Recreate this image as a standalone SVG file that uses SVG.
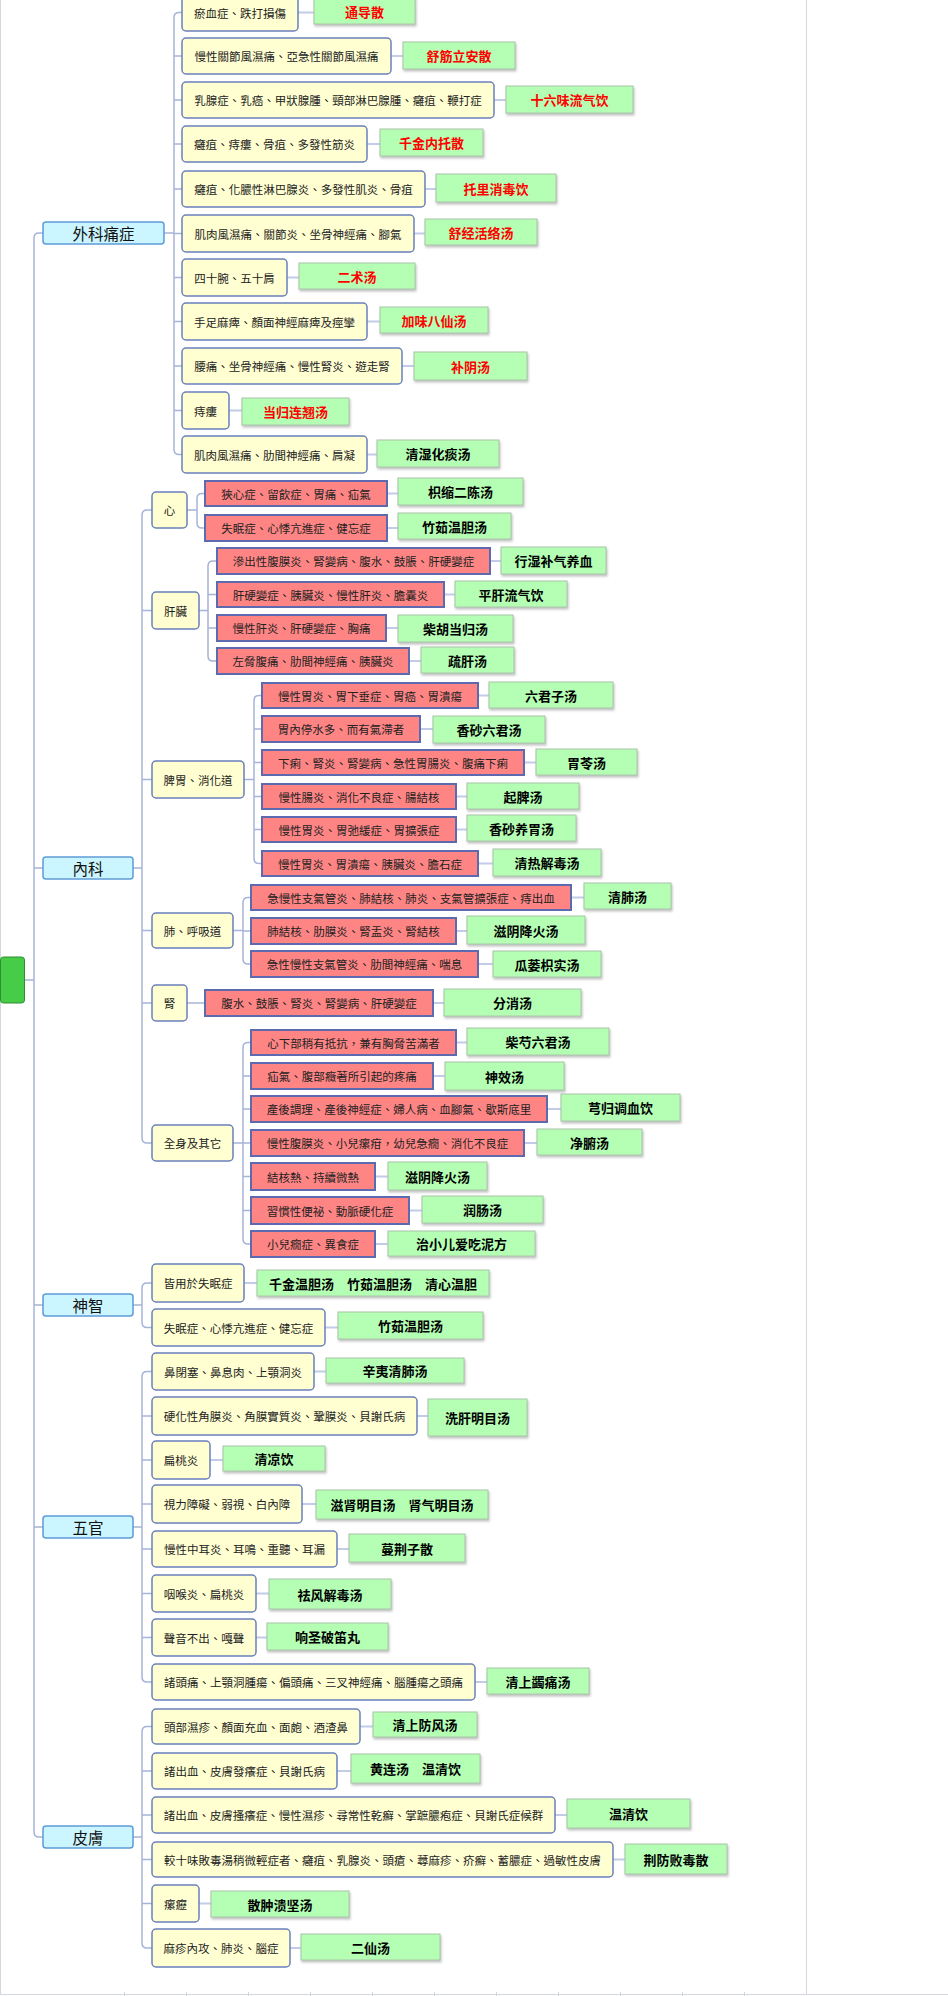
<svg xmlns="http://www.w3.org/2000/svg" width="948" height="1996" viewBox="0 0 948 1996">
<defs>
<filter id="sh" x="-5%" y="-20%" width="115%" height="160%">
<feDropShadow dx="1" dy="2" stdDeviation="1" flood-color="#777" flood-opacity="0.45"/>
</filter>
</defs>
<style>
.frame{stroke:#D3D7DF;stroke-width:1;fill:none}
.c{fill:none;stroke:#A6B4D8;stroke-width:1.5}
.cd{fill:none;stroke:#C2CCE8;stroke-width:2}
.root{fill:#46CC46;stroke:#2F8F2F;stroke-width:1}
.l1 rect{fill:#CCF6FF;stroke:#5D9CD8;stroke-width:1.5}
.y rect{fill:#FFFFD2;stroke:#6A80BC;stroke-width:1.5}
.r rect{fill:#FF8585;stroke:#5E6AB0;stroke-width:2}
.g rect{fill:#B5FFB5;stroke:#A8C4A8;stroke-width:1;filter:url(#sh)}
text{dominant-baseline:central;text-anchor:middle}
.l1 text{font-family:"Noto Sans CJK TC","Noto Sans CJK SC",sans-serif;font-size:15.5px;fill:#111}
.y text,.r text{font-family:"Noto Sans CJK TC","Noto Sans CJK SC",sans-serif;font-size:11.5px;fill:#222}
.g text{font-family:"Noto Sans CJK SC","Noto Sans CJK TC",sans-serif;font-size:13px;font-weight:bold;fill:#000}
.g.red text{fill:#FF0000}
</style>
<rect width="948" height="1996" fill="#FFFFFF"/>
<g id="frame">
<path class="frame" d="M0.5,0V1994.5M806.5,0V1994.5M0,1994.5H948"/>
<path class="frame" d="M124.5,1992V1996M186.5,1992V1996M248.5,1992V1996M310.5,1992V1996M372.5,1992V1996M434.5,1992V1996M496.5,1992V1996M558.5,1992V1996M620.5,1992V1996M682.5,1992V1996M744.5,1992V1996"/>
</g>
<g id="connectors">
<path class="c" d="M25,980H34M34,238V1832M34,238Q34,233 39,233H43M34,868H43M34,1305H43M34,1527H43M34,1832Q34,1837 39,1837H43"/>
<path class="c" d="M164,233H174M174,17.5V449.5M174,17.5Q174,12.5 179,12.5H182M174,56H182M174,100H182M174,144H182M174,189H182M174,233.5H182M174,277.5H182M174,321.5H182M174,366H182M174,410.5H182M174,449.5Q174,454.5 179,454.5H182"/>
<path class="c" d="M133,868H142M142,515V1138M142,515Q142,510 147,510H152M142,610.5H152M142,779.5H152M142,930.5H152M142,1003H152M142,1138Q142,1143 147,1143H152"/>
<path class="c" d="M187,510H197M197,498.5V523M197,498.5Q197,493.5 202,493.5H205M197,523Q197,528 202,528H205"/>
<path class="c" d="M199,610.5H208M208,566V656M208,566Q208,561 213,561H217M208,594.5H217M208,628H217M208,656Q208,661 213,661H217"/>
<path class="c" d="M244,779.5H254M254,700.5V858.5M254,700.5Q254,695.5 259,695.5H262M254,729H262M254,762.5H262M254,796.5H262M254,829.5H262M254,858.5Q254,863.5 259,863.5H262"/>
<path class="c" d="M233,930.5H243M243,902.5V959M243,902.5Q243,897.5 248,897.5H251M243,931H251M243,959Q243,964 248,964H251"/>
<path class="c" d="M187,1003H205"/>
<path class="c" d="M233,1143H243M243,1047.5V1239M243,1047.5Q243,1042.5 248,1042.5H251M243,1076H251M243,1109H251M243,1143H251M243,1176.5H251M243,1210.5H251M243,1239Q243,1244 248,1244H251"/>
<path class="c" d="M133,1305H142M142,1288V1322.5M142,1288Q142,1283 147,1283H152M142,1322.5Q142,1327.5 147,1327.5H152"/>
<path class="c" d="M133,1527H142M142,1376.5V1677M142,1376.5Q142,1371.5 147,1371.5H152M142,1416H152M142,1460H152M142,1504H152M142,1549H152M142,1593.5H152M142,1637.5H152M142,1677Q142,1682 147,1682H152"/>
<path class="c" d="M133,1837H142M142,1731.5V1943M142,1731.5Q142,1726.5 147,1726.5H152M142,1771H152M142,1815H152M142,1859.5H152M142,1903.5H152M142,1943Q142,1948 147,1948H152"/>
<path class="cd" d="M298,12.5H314M391,56H403M494,100H506M367,144H380M425,189H436M414,233.5H425M287,277.5H299M367,321.5H380M402,366H414M229,410.5H242M367,454.5H377"/>
<path class="cd" d="M387,493.5H398M387,528H398M490,561H501M444,594.5H455M386,628H398M409,661H421M478,695.5H489M420,729H433M524,762.5H536M456,796.5H467M456,829.5H467M478,863.5H493M571,897.5H584M456,931H467M478,964H493M433,1003H444M456,1042.5H467M433,1076H445M547,1109H561M524,1143H537M375,1176.5H388M409,1210.5H422M375,1244H388"/>
<path class="cd" d="M244,1283H257M325,1327.5H338M314,1371.5H326M417,1416H428M210,1460H223M302,1504H316M337,1549H349M256,1593.5H269M256,1637.5H267M475,1682H487M360,1726.5H373M337,1771H351M555,1815H567M613,1859.5H625M199,1903.5H211M290,1948H301"/>
</g>
<g id="root"><rect class="root" x="0.5" y="957" width="24" height="46" rx="3"/></g>
<g id="n-waike" class="l1"><rect x="43" y="222" width="121" height="22" rx="3"/><text x="103.5" y="233">外科痛症</text></g>
<g id="n-neike" class="l1"><rect x="43" y="857" width="90" height="22" rx="3"/><text x="88" y="868">內科</text></g>
<g id="n-shenzhi" class="l1"><rect x="43" y="1294" width="90" height="22" rx="3"/><text x="88" y="1305">神智</text></g>
<g id="n-wuguan" class="l1"><rect x="43" y="1516" width="90" height="22" rx="3"/><text x="88" y="1527">五官</text></g>
<g id="n-pifu" class="l1"><rect x="43" y="1826" width="90" height="22" rx="3"/><text x="88" y="1837">皮膚</text></g>

<g id="w1" class="y"><rect x="182" y="-6" width="116" height="37" rx="4"/><text x="240" y="12.5">瘀血症、跌打損傷</text></g>
<g id="w1d" class="g red"><rect x="314" y="-2" width="101" height="26"/><text x="364.5" y="11">通导散</text></g>
<g id="w2" class="y"><rect x="182" y="38" width="209" height="36" rx="4"/><text x="286.5" y="56">慢性關節風濕痛、亞急性關節風濕痛</text></g>
<g id="w2d" class="g red"><rect x="403" y="42" width="112" height="27"/><text x="459" y="55.5">舒筋立安散</text></g>
<g id="w3" class="y"><rect x="182" y="82" width="312" height="36" rx="4"/><text x="338" y="100">乳腺症、乳癌、甲狀腺腫、頸部淋巴腺腫、癰疽、鞭打症</text></g>
<g id="w3d" class="g red"><rect x="506" y="86" width="127" height="27"/><text x="569.5" y="99.5">十六味流气饮</text></g>
<g id="w4" class="y"><rect x="182" y="126" width="185" height="36" rx="4"/><text x="274.5" y="144">癰疽、痔瘻、骨疽、多發性筋炎</text></g>
<g id="w4d" class="g red"><rect x="380" y="129" width="103" height="27"/><text x="431.5" y="142.5">千金内托散</text></g>
<g id="w5" class="y"><rect x="182" y="171" width="243" height="36" rx="4"/><text x="303.5" y="189">癰疽、化膿性淋巴腺炎、多發性肌炎、骨疽</text></g>
<g id="w5d" class="g red"><rect x="436" y="174" width="120" height="28"/><text x="496" y="188">托里消毒饮</text></g>
<g id="w6" class="y"><rect x="182" y="215" width="232" height="37" rx="4"/><text x="298" y="233.5">肌肉風濕痛、關節炎、坐骨神經痛、腳氣</text></g>
<g id="w6d" class="g red"><rect x="425" y="219" width="112" height="26"/><text x="481" y="232">舒经活络汤</text></g>
<g id="w7" class="y"><rect x="182" y="259" width="105" height="37" rx="4"/><text x="234.5" y="277.5">四十腕、五十肩</text></g>
<g id="w7d" class="g red"><rect x="299" y="263" width="116" height="26"/><text x="357" y="276">二术汤</text></g>
<g id="w8" class="y"><rect x="182" y="303" width="185" height="37" rx="4"/><text x="274.5" y="321.5">手足麻痺、顏面神經麻痺及痙攣</text></g>
<g id="w8d" class="g red"><rect x="380" y="307" width="108" height="26"/><text x="434" y="320">加味八仙汤</text></g>
<g id="w9" class="y"><rect x="182" y="348" width="220" height="36" rx="4"/><text x="292" y="366">腰痛、坐骨神經痛、慢性腎炎、遊走腎</text></g>
<g id="w9d" class="g red"><rect x="414" y="352" width="113" height="28"/><text x="470.5" y="366">补阴汤</text></g>
<g id="w10" class="y"><rect x="182" y="392" width="47" height="37" rx="4"/><text x="205.5" y="410.5">痔瘻</text></g>
<g id="w10d" class="g red"><rect x="242" y="398" width="107" height="27"/><text x="295.5" y="411.5">当归连翘汤</text></g>
<g id="w11" class="y"><rect x="182" y="436" width="185" height="37" rx="4"/><text x="274.5" y="454.5">肌肉風濕痛、肋間神經痛、肩凝</text></g>
<g id="w11d" class="g"><rect x="377" y="440" width="122" height="27"/><text x="438" y="453.5">清湿化痰汤</text></g>

<g id="n-xin" class="y"><rect x="152" y="492" width="35" height="36" rx="4"/><text x="169.5" y="510">心</text></g>
<g id="x1" class="r"><rect x="205" y="481" width="182" height="25"/><text x="296" y="493.5">狹心症、留飲症、胃痛、疝氣</text></g>
<g id="x1d" class="g"><rect x="398" y="478" width="125" height="27"/><text x="460.5" y="491.5">枳缩二陈汤</text></g>
<g id="x2" class="r"><rect x="205" y="515" width="182" height="26"/><text x="296" y="528">失眠症、心悸亢進症、健忘症</text></g>
<g id="x2d" class="g"><rect x="398" y="513" width="113" height="26"/><text x="454.5" y="526">竹茹温胆汤</text></g>

<g id="n-gan" class="y"><rect x="152" y="592" width="47" height="37" rx="4"/><text x="175.5" y="610.5">肝臟</text></g>
<g id="g1" class="r"><rect x="217" y="548" width="273" height="26"/><text x="353.5" y="561">滲出性腹膜炎、腎變病、腹水、鼓脹、肝硬變症</text></g>
<g id="g1d" class="g"><rect x="501" y="547" width="105" height="27"/><text x="553.5" y="560.5">行湿补气养血</text></g>
<g id="g2" class="r"><rect x="217" y="582" width="227" height="25"/><text x="330.5" y="594.5">肝硬變症、胰臟炎、慢性肝炎、膽囊炎</text></g>
<g id="g2d" class="g"><rect x="455" y="581" width="112" height="26"/><text x="511" y="594">平肝流气饮</text></g>
<g id="g3" class="r"><rect x="217" y="615" width="169" height="26"/><text x="301.5" y="628">慢性肝炎、肝硬變症、胸痛</text></g>
<g id="g3d" class="g"><rect x="398" y="615" width="115" height="27"/><text x="455.5" y="628.5">柴胡当归汤</text></g>
<g id="g4" class="r"><rect x="217" y="648" width="192" height="26"/><text x="313" y="661">左脅腹痛、肋間神經痛、胰臟炎</text></g>
<g id="g4d" class="g"><rect x="421" y="647" width="93" height="26"/><text x="467.5" y="660">疏肝汤</text></g>

<g id="n-piwei" class="y"><rect x="152" y="761" width="92" height="37" rx="4"/><text x="198" y="779.5">脾胃、消化道</text></g>
<g id="p1" class="r"><rect x="262" y="683" width="216" height="25"/><text x="370" y="695.5">慢性胃炎、胃下垂症、胃癌、胃潰瘍</text></g>
<g id="p1d" class="g"><rect x="489" y="682" width="124" height="26"/><text x="551" y="695">六君子汤</text></g>
<g id="p2" class="r"><rect x="262" y="716" width="158" height="26"/><text x="341" y="729">胃內停水多、而有氣滯者</text></g>
<g id="p2d" class="g"><rect x="433" y="716" width="112" height="27"/><text x="489" y="729.5">香砂六君汤</text></g>
<g id="p3" class="r"><rect x="262" y="750" width="262" height="25"/><text x="393" y="762.5">下痢、腎炎、腎變病、急性胃腸炎、腹痛下痢</text></g>
<g id="p3d" class="g"><rect x="536" y="749" width="101" height="26"/><text x="586.5" y="762">胃苓汤</text></g>
<g id="p4" class="r"><rect x="262" y="784" width="194" height="25"/><text x="359" y="796.5">慢性腸炎、消化不良症、腸結核</text></g>
<g id="p4d" class="g"><rect x="467" y="783" width="112" height="26"/><text x="523" y="796">起脾汤</text></g>
<g id="p5" class="r"><rect x="262" y="817" width="194" height="25"/><text x="359" y="829.5">慢性胃炎、胃弛緩症、胃擴張症</text></g>
<g id="p5d" class="g"><rect x="467" y="815" width="109" height="26"/><text x="521.5" y="828">香砂养胃汤</text></g>
<g id="p6" class="r"><rect x="262" y="851" width="216" height="25"/><text x="370" y="863.5">慢性胃炎、胃潰瘍、胰臟炎、膽石症</text></g>
<g id="p6d" class="g"><rect x="493" y="849" width="108" height="27"/><text x="547" y="862.5">清热解毒汤</text></g>

<g id="n-fei" class="y"><rect x="152" y="913" width="81" height="35" rx="4"/><text x="192.5" y="930.5">肺、呼吸道</text></g>
<g id="f1" class="r"><rect x="251" y="885" width="320" height="25"/><text x="411" y="897.5">急慢性支氣管炎、肺結核、肺炎、支氣管擴張症、痔出血</text></g>
<g id="f1d" class="g"><rect x="584" y="883" width="87" height="26"/><text x="627.5" y="896">清肺汤</text></g>
<g id="f2" class="r"><rect x="251" y="918" width="205" height="26"/><text x="353.5" y="931">肺結核、肋膜炎、腎盂炎、腎結核</text></g>
<g id="f2d" class="g"><rect x="467" y="916" width="118" height="28"/><text x="526" y="930">滋阴降火汤</text></g>
<g id="f3" class="r"><rect x="251" y="951" width="227" height="26"/><text x="364.5" y="964">急性慢性支氣管炎、肋間神經痛、喘息</text></g>
<g id="f3d" class="g"><rect x="493" y="951" width="108" height="26"/><text x="547" y="964">瓜蒌枳实汤</text></g>

<g id="n-shen" class="y"><rect x="152" y="985" width="35" height="36" rx="4"/><text x="169.5" y="1003">腎</text></g>
<g id="s1" class="r"><rect x="205" y="990" width="228" height="26"/><text x="319" y="1003">腹水、鼓脹、腎炎、腎變病、肝硬變症</text></g>
<g id="s1d" class="g"><rect x="444" y="989" width="137" height="27"/><text x="512.5" y="1002.5">分消汤</text></g>

<g id="n-quanshen" class="y"><rect x="152" y="1125" width="81" height="36" rx="4"/><text x="192.5" y="1143">全身及其它</text></g>
<g id="q1" class="r"><rect x="251" y="1030" width="205" height="25"/><text x="353.5" y="1042.5">心下部稍有抵抗，兼有胸脅苦滿者</text></g>
<g id="q1d" class="g"><rect x="467" y="1028" width="142" height="27"/><text x="538" y="1041.5">柴芍六君汤</text></g>
<g id="q2" class="r"><rect x="251" y="1063" width="182" height="26"/><text x="342" y="1076">疝氣、腹部癥著所引起的疼痛</text></g>
<g id="q2d" class="g"><rect x="445" y="1062" width="119" height="28"/><text x="504.5" y="1076">神效汤</text></g>
<g id="q3" class="r"><rect x="251" y="1096" width="296" height="26"/><text x="399" y="1109">產後調理、產後神經症、婦人病、血腳氣、歇斯底里</text></g>
<g id="q3d" class="g"><rect x="561" y="1094" width="119" height="27"/><text x="620.5" y="1107.5">芎归调血饮</text></g>
<g id="q4" class="r"><rect x="251" y="1130" width="273" height="26"/><text x="387.5" y="1143">慢性腹膜炎、小兒瘰疳，幼兒急癇、消化不良症</text></g>
<g id="q4d" class="g"><rect x="537" y="1129" width="105" height="26"/><text x="589.5" y="1142">净腑汤</text></g>
<g id="q5" class="r"><rect x="251" y="1163" width="124" height="27"/><text x="313" y="1176.5">結核熱、持續微熱</text></g>
<g id="q5d" class="g"><rect x="388" y="1162" width="99" height="28"/><text x="437.5" y="1176">滋阴降火汤</text></g>
<g id="q6" class="r"><rect x="251" y="1197" width="158" height="27"/><text x="330" y="1210.5">習慣性便祕、動脈硬化症</text></g>
<g id="q6d" class="g"><rect x="422" y="1196" width="121" height="27"/><text x="482.5" y="1209.5">润肠汤</text></g>
<g id="q7" class="r"><rect x="251" y="1231" width="124" height="26"/><text x="313" y="1244">小兒癇症、異食症</text></g>
<g id="q7d" class="g"><rect x="388" y="1231" width="147" height="25"/><text x="461.5" y="1243.5">治小儿爱吃泥方</text></g>

<g id="z1" class="y"><rect x="152" y="1264" width="92" height="38" rx="4"/><text x="198" y="1283">皆用於失眠症</text></g>
<g id="z1d" class="g"><rect x="257" y="1270" width="232" height="26"/><text x="373" y="1283">千金温胆汤　竹茹温胆汤　清心温胆</text></g>
<g id="z2" class="y"><rect x="152" y="1309" width="173" height="37" rx="4"/><text x="238.5" y="1327.5">失眠症、心悸亢進症、健忘症</text></g>
<g id="z2d" class="g"><rect x="338" y="1312" width="145" height="27"/><text x="410.5" y="1325.5">竹茹温胆汤</text></g>

<g id="o1" class="y"><rect x="152" y="1353" width="162" height="37" rx="4"/><text x="233" y="1371.5">鼻閉塞、鼻息肉、上顎洞炎</text></g>
<g id="o1d" class="g"><rect x="326" y="1358" width="138" height="25"/><text x="395" y="1370.5">辛夷清肺汤</text></g>
<g id="o2" class="y"><rect x="152" y="1397" width="265" height="38" rx="4"/><text x="284.5" y="1416">硬化性角膜炎、角膜實質炎、鞏膜炎、貝謝氏病</text></g>
<g id="o2d" class="g"><rect x="428" y="1399" width="99" height="37"/><text x="477.5" y="1417.5">洗肝明目汤</text></g>
<g id="o3" class="y"><rect x="152" y="1441" width="58" height="38" rx="4"/><text x="181" y="1460">扁桃炎</text></g>
<g id="o3d" class="g"><rect x="223" y="1446" width="102" height="25"/><text x="274" y="1458.5">清凉饮</text></g>
<g id="o4" class="y"><rect x="152" y="1485" width="150" height="38" rx="4"/><text x="227" y="1504">視力障礙、弱視、白內障</text></g>
<g id="o4d" class="g"><rect x="316" y="1490" width="172" height="29"/><text x="402" y="1504.5">滋肾明目汤　肾气明目汤</text></g>
<g id="o5" class="y"><rect x="152" y="1531" width="185" height="36" rx="4"/><text x="244.5" y="1549">慢性中耳炎、耳鳴、重聽、耳漏</text></g>
<g id="o5d" class="g"><rect x="349" y="1534" width="116" height="28"/><text x="407" y="1548">蔓荆子散</text></g>
<g id="o6" class="y"><rect x="152" y="1575" width="104" height="37" rx="4"/><text x="204" y="1593.5">咽喉炎、扁桃炎</text></g>
<g id="o6d" class="g"><rect x="269" y="1579" width="122" height="30"/><text x="330" y="1594">祛风解毒汤</text></g>
<g id="o7" class="y"><rect x="152" y="1619" width="104" height="37" rx="4"/><text x="204" y="1637.5">聲音不出、嘎聲</text></g>
<g id="o7d" class="g"><rect x="267" y="1623" width="121" height="27"/><text x="327.5" y="1636.5">响圣破笛丸</text></g>
<g id="o8" class="y"><rect x="152" y="1664" width="323" height="36" rx="4"/><text x="313.5" y="1682">諸頭痛、上顎洞腫瘍、偏頭痛、三叉神經痛、腦腫瘍之頭痛</text></g>
<g id="o8d" class="g"><rect x="487" y="1668" width="102" height="26"/><text x="538" y="1681">清上蠲痛汤</text></g>

<g id="k1" class="y"><rect x="152" y="1709" width="208" height="35" rx="4"/><text x="256" y="1726.5">頭部濕疹、顏面充血、面皰、酒渣鼻</text></g>
<g id="k1d" class="g"><rect x="373" y="1712" width="104" height="25"/><text x="425" y="1724.5">清上防风汤</text></g>
<g id="k2" class="y"><rect x="152" y="1753" width="185" height="36" rx="4"/><text x="244.5" y="1771">諸出血、皮膚發癢症、貝謝氏病</text></g>
<g id="k2d" class="g"><rect x="351" y="1754" width="129" height="29"/><text x="415.5" y="1768.5">黄连汤　温清饮</text></g>
<g id="k3" class="y"><rect x="152" y="1797" width="403" height="36" rx="4"/><text x="353.5" y="1815">諸出血、皮膚搔癢症、慢性濕疹、尋常性乾癬、掌蹠膿疱症、貝謝氏症候群</text></g>
<g id="k3d" class="g"><rect x="567" y="1799" width="123" height="29"/><text x="628.5" y="1813.5">温清饮</text></g>
<g id="k4" class="y"><rect x="152" y="1842" width="461" height="35" rx="4"/><text x="382.5" y="1859.5">較十味敗毒湯稍微輕症者、癰疽、乳腺炎、頭瘡、蕁麻疹、疥癬、蓄膿症、過敏性皮膚</text></g>
<g id="k4d" class="g"><rect x="625" y="1844" width="102" height="30"/><text x="676" y="1859">荆防败毒散</text></g>
<g id="k5" class="y"><rect x="152" y="1885" width="47" height="37" rx="4"/><text x="175.5" y="1903.5">瘰癧</text></g>
<g id="k5d" class="g"><rect x="211" y="1891" width="138" height="26"/><text x="280" y="1904">散肿溃坚汤</text></g>
<g id="k6" class="y"><rect x="152" y="1929" width="138" height="38" rx="4"/><text x="221" y="1948">麻疹內攻、肺炎、腦症</text></g>
<g id="k6d" class="g"><rect x="301" y="1934" width="139" height="26"/><text x="370.5" y="1947">二仙汤</text></g>
</svg>
